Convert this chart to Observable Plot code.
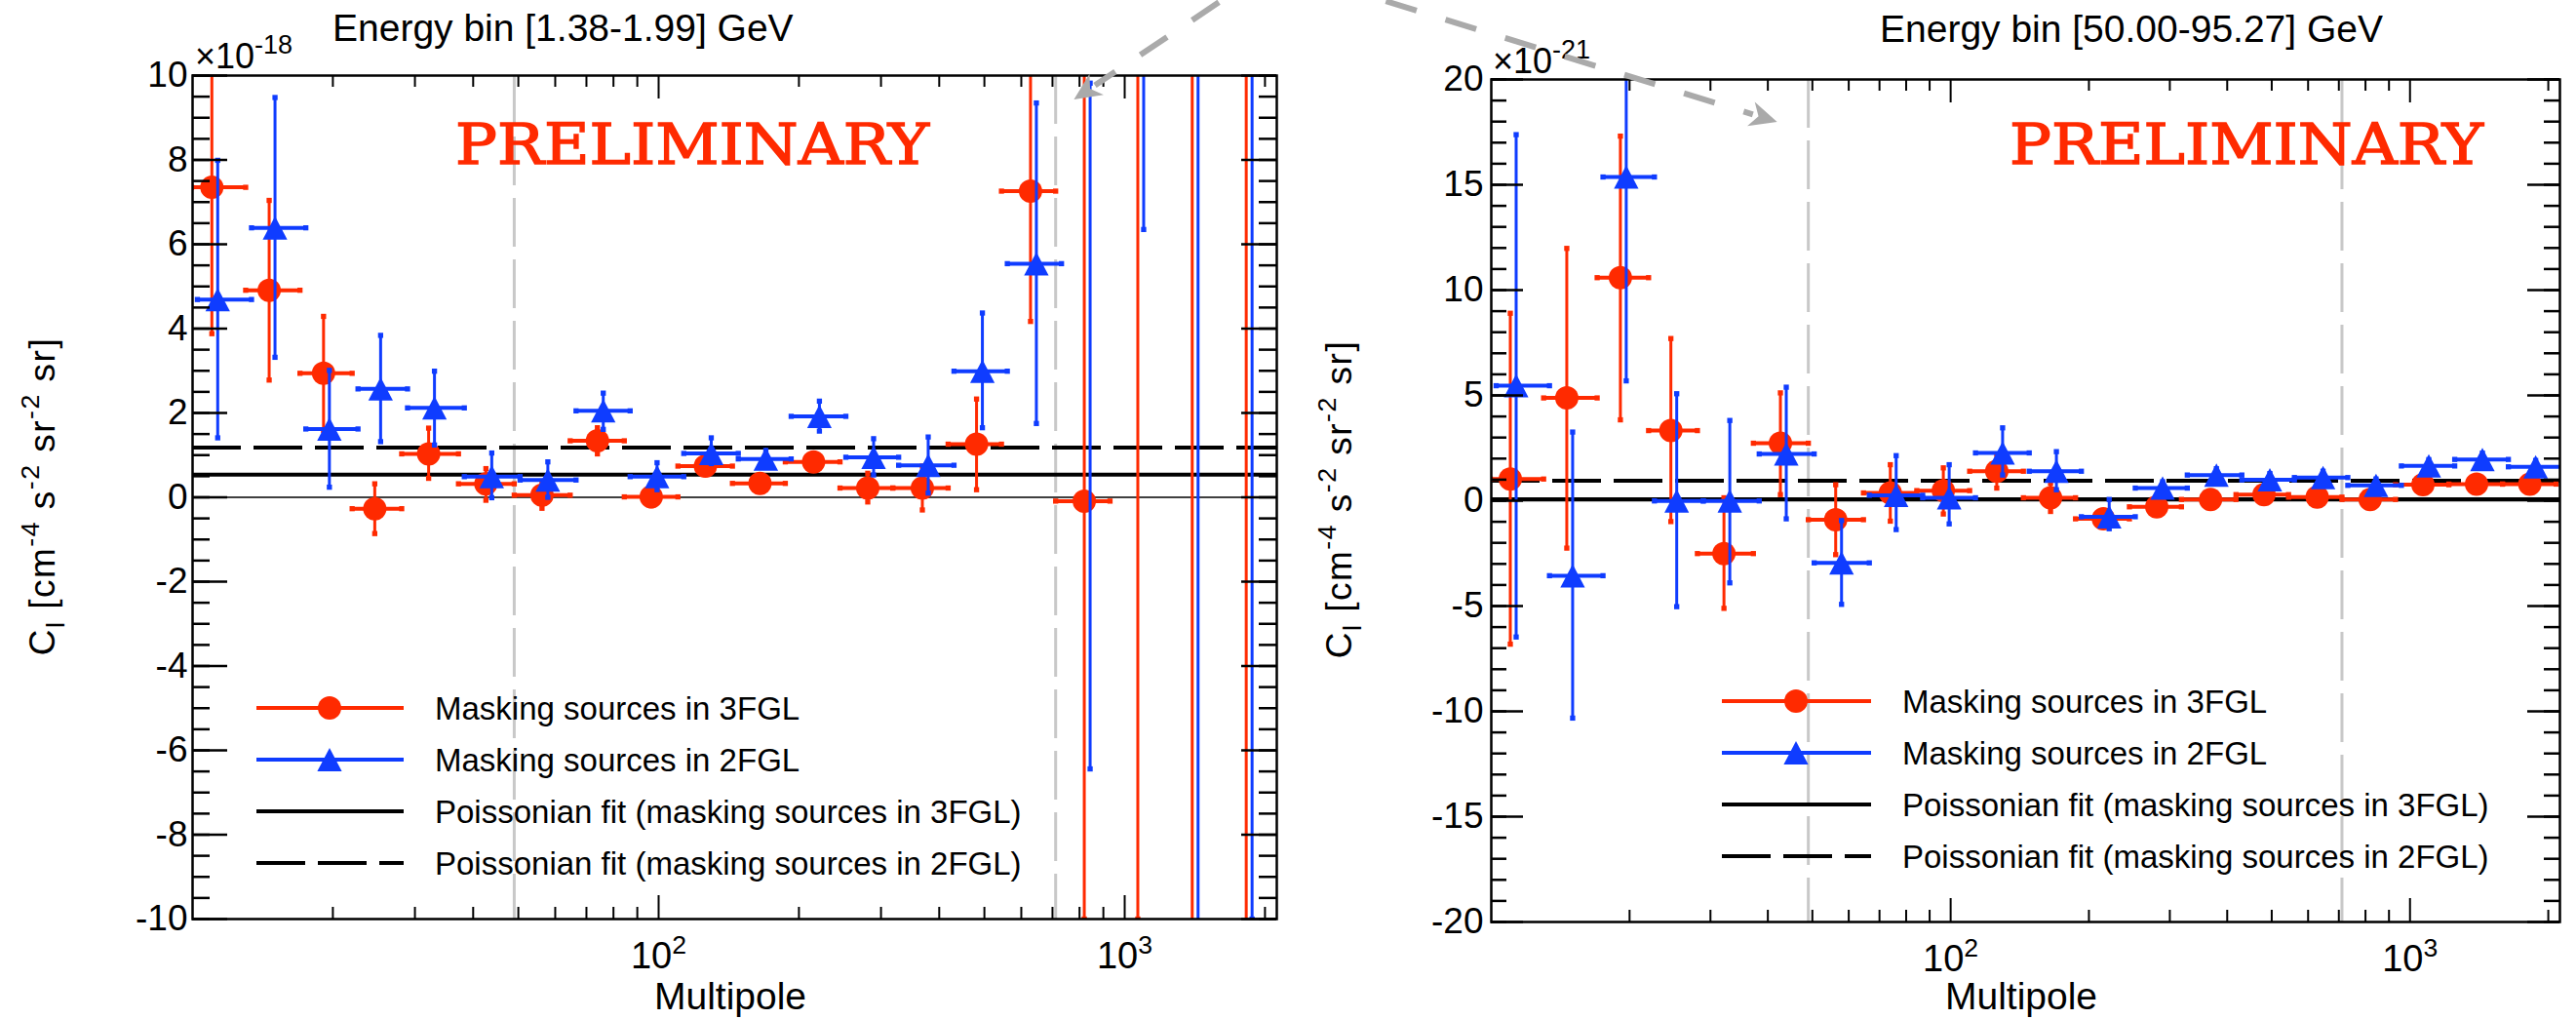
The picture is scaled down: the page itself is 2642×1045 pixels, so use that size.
<!DOCTYPE html>
<html><head><meta charset="utf-8">
<script src="https://cdn.jsdelivr.net/npm/d3@7"></script>
<script src="https://cdn.jsdelivr.net/npm/@observablehq/plot@0.6"></script>
<style>
body{margin:0;background:#fff;}
#wrap{position:relative;width:2642px;height:1045px;overflow:hidden;background:#fff;}
.panel{position:absolute;top:0;height:1045px;}
.panel svg{max-width:none !important;}
#overlay{position:absolute;left:0;top:0;pointer-events:none;overflow:visible;}
</style></head>
<body>
<div id="wrap">
  <div id="pL" class="panel" style="left:0;width:1320px"></div>
  <div id="pR" class="panel" style="left:1320px;width:1322px"></div>
  <svg id="overlay" width="2642" height="1045"></svg>
</div>
<script>
// ---------------- data ----------------
// multipole bin centres and bin edges (shared by both panels)
const ell   = [11, 14.6, 19.1, 24.6, 32.1, 42.6, 56.2, 73.9, 96.4, 126, 165, 215, 281, 368, 481, 628, 819, 1067, 1396, 1823];
const ellLo = [9.95, 13.0, 17.0, 22.0, 28.1, 37.2, 49.0, 64.6, 84.4, 110, 144, 187, 245, 318, 418, 544, 711, 930, 1215, 1590];
const ellHi = [13.0, 17.0, 22.0, 28.1, 37.2, 49.0, 64.6, 84.4, 110, 144, 187, 245, 318, 418, 544, 711, 930, 1215, 1590, 2080];

// Energy bin [1.38-1.99] GeV, units of 1e-18
const lowRed   = [7.35, 4.91, 2.94, -0.27, 1.03, 0.32, 0.05, 1.34, 0.01, 0.74, 0.33, 0.84, 0.22, 0.22, 1.26, 7.26, -0.09, 13, 14, 13];
const lowRedLo = [3.88, 2.78, 1.59, -0.86, 0.45, -0.07, -0.26, 1.03, -0.20, 0.54, 0.13, 0.64, -0.11, -0.30, 0.18, 4.17, -10.0, -10.0, -12, -12];
const lowRedHi = [11.0, 7.04, 4.29, 0.32, 1.64, 0.68, 0.38, 1.65, 0.22, 0.94, 0.53, 1.04, 0.57, 0.74, 2.33, 10.4, 12, 36, 40, 38];
const lowBlue   = [4.69, 6.39, 1.62, 2.57, 2.12, 0.49, 0.41, 2.05, 0.49, 1.04, 0.91, 1.92, 0.95, 0.76, 2.99, 5.54, null, 14, 15, 16];
const lowBlueLo = [1.41, 3.32, 0.24, 1.32, 1.24, -0.01, 0.0, 1.61, 0.18, 0.80, 0.71, 1.57, 0.53, 0.10, 1.65, 1.75, -6.44, 6.35, -12, -10.0];
const lowBlueHi = [7.99, 9.48, 3.01, 3.84, 2.99, 1.05, 0.84, 2.47, 0.82, 1.41, 1.11, 2.28, 1.39, 1.43, 4.37, 9.35, 9.82, 30, 40, 40];

// Energy bin [50.00-95.27] GeV, units of 1e-21
const highRed   = [1.03, 4.88, 10.59, 3.33, -2.51, 2.73, -0.90, 0.37, 0.48, 1.40, 0.14, -0.86, -0.29, 0.06, 0.29, 0.17, 0.06, 0.76, 0.79, 0.79];
const highRedLo = [-6.81, -2.25, 3.84, -0.99, -5.11, 0.29, -2.56, -0.97, -0.63, 0.60, -0.51, -1.16, -0.59, -0.24, -0.01, -0.13, -0.24, 0.46, 0.49, 0.49];
const highRedHi = [8.90, 11.98, 17.31, 7.70, 0.14, 5.12, 0.76, 1.71, 1.56, 2.20, 0.83, -0.56, 0.01, 0.36, 0.59, 0.47, 0.36, 1.06, 1.09, 1.09];
const highBlue   = [5.46, -3.56, 15.37, -0.01, -0.01, 2.22, -2.95, 0.26, 0.14, 2.27, 1.40, -0.76, 0.60, 1.22, 0.99, 1.10, 0.73, 1.65, 1.96, 1.61];
const highBlueLo = [-6.47, -10.32, 5.69, -5.03, -3.90, -0.86, -4.92, -1.37, -1.10, 1.22, 0.52, -1.33, 0.30, 0.92, 0.69, 0.80, 0.43, 1.35, 1.66, 1.31];
const highBlueHi = [17.38, 3.26, 21, 5.08, 3.81, 5.39, -0.94, 2.14, 1.71, 3.46, 2.33, 0.06, 0.90, 1.52, 1.29, 1.40, 1.03, 1.95, 2.26, 1.91];

// Poissonian fits and fit range
const fitLow  = {fgl3: 0.54, fgl2: 1.18};
const fitHigh = {fgl3: 0.07, fgl2: 0.95};
const fitRange = [49, 711];

// axes
const xDomain = [10, 2120];
const xMajorTicks = [100, 1000];
const xMinorTicks = [20, 30, 40, 50, 60, 70, 80, 90, 200, 300, 400, 500, 600, 700, 800, 900, 2000];
const yLowTicks  = [-10, -8, -6, -4, -2, 0, 2, 4, 6, 8, 10];
const yHighTicks = [-20, -15, -10, -5, 0, 5, 10, 15, 20];

const titles = ["Energy bin [1.38-1.99] GeV", "Energy bin [50.00-95.27] GeV"];
const exps = ["-18", "-21"];
const legendLabels = ["Masking sources in 3FGL", "Masking sources in 2FGL",
  "Poissonian fit (masking sources in 3FGL)", "Poissonian fit (masking sources in 2FGL)"];

// arrows between the panels (data coordinates of each panel)
const arrowL = {tail: [1622, 11.78], tip: [780, 9.42]};
const arrowR = {tail: [5.8, 23.75], tip: [42, 17.96]};

// ---------------- drawing ----------------
const RED = "#ff2a00", BLUE = "#0f3cff";
const FONT = "'Liberation Sans', Arial, Helvetica, sans-serif";
const tri = {draw(ctx, size) { const r = Math.sqrt(size / Math.PI); const h = r, w = r * 1.05;
  ctx.moveTo(0, -h); ctx.lineTo(w, h); ctx.lineTo(-w, h); ctx.closePath(); }};

function rows(v, lo, hi) {
  return ell.map((l, i) => ({ell: l, e0: ellLo[i], e1: ellHi[i], v: v[i], lo: lo[i], hi: hi[i]}));
}
function series(data, color, symbol, dx) {
  const cap = {symbol: "square", r: 3, fill: color, dx, clip: true};
  return [
    Plot.ruleX(data, {x: "ell", y1: "lo", y2: "hi", stroke: color, strokeWidth: 3, dx, clip: true}),
    Plot.dot(data, {x: "ell", y: "lo", ...cap}),
    Plot.dot(data, {x: "ell", y: "hi", ...cap}),
    Plot.ruleY(data, {y: "v", x1: "e0", x2: "e1", stroke: color, strokeWidth: 4, dx, clip: true}),
    Plot.dot(data, {x: "e0", y: "v", ...cap}),
    Plot.dot(data, {x: "e1", y: "v", ...cap}),
    Plot.dot(data, {x: "ell", y: "v", symbol, r: 12, fill: color, stroke: null, dx, clip: true})
  ];
}
function panel(o) {
  const fw = o.width - o.ml - o.mr, fh = 1045 - o.mt - o.mb;
  const yMinor = d3.range(o.yDomain[0], o.yDomain[1] + 1e-9, o.minorStep);
  return Plot.plot({
    width: o.width, height: 1045,
    marginLeft: o.ml, marginRight: o.mr, marginTop: o.mt, marginBottom: o.mb,
    style: {fontFamily: FONT, fontSize: "37px", background: "transparent", overflow: "visible"},
    x: {type: "log", domain: xDomain, label: null},
    y: {domain: o.yDomain, label: null},
    marks: [
      Plot.ruleX(fitRange, {x: d => d, stroke: "#c8c8c8", strokeWidth: 3, strokeDasharray: "50,13"}),
      Plot.ruleY([0], {stroke: "#000", strokeWidth: 1.5}),
      Plot.ruleY([o.fit.fgl3], {stroke: "#000", strokeWidth: 4}),
      Plot.ruleY([o.fit.fgl2], {stroke: "#000", strokeWidth: 4, strokeDasharray: "50,13"}),
      ...series(rows(o.red, o.redLo, o.redHi), RED, "circle", 0),
      ...series(rows(o.blue, o.blueLo, o.blueHi), BLUE, tri, 6),
      // inward ticks
      Plot.tickX(xMajorTicks, {x: d => d, insetTop: fh - 24, strokeWidth: 2}),
      Plot.tickX(xMajorTicks, {x: d => d, insetBottom: fh - 24, strokeWidth: 2}),
      Plot.tickX(xMinorTicks, {x: d => d, insetTop: fh - 12, strokeWidth: 2}),
      Plot.tickX(xMinorTicks, {x: d => d, insetBottom: fh - 12, strokeWidth: 2}),
      Plot.tickY(o.yTicks, {y: d => d, insetRight: fw - o.majLen, strokeWidth: 2.5}),
      Plot.tickY(o.yTicks, {y: d => d, insetLeft: fw - o.majLen, strokeWidth: 2.5}),
      Plot.tickY(yMinor, {y: d => d, insetRight: fw - o.minLen, strokeWidth: 2.5}),
      Plot.tickY(yMinor, {y: d => d, insetLeft: fw - o.minLen, strokeWidth: 2.5}),
      Plot.frame({stroke: "#000", strokeWidth: 2.5}),
      Plot.axisY({ticks: o.yTicks, tickSize: 0, tickPadding: o.yPad, tickFormat: d => String(d), label: null, fontSize: 37}),
      Plot.axisX({ticks: xMajorTicks, tickSize: 0, tickPadding: 24, tickFormat: d => String(Math.round(Math.log10(d))), label: null, fontSize: 38})
    ]
  });
}

const plotL = panel({width: 1320, ml: 197, mr: 11, mt: 77, mb: 103, yDomain: [-10, 10], yTicks: yLowTicks,
  minorStep: 0.5, majLen: 36, minLen: 18, yPad: 5, fit: fitLow,
  red: lowRed, redLo: lowRedLo, redHi: lowRedHi, blue: lowBlue, blueLo: lowBlueLo, blueHi: lowBlueHi});
const plotR = panel({width: 1322, ml: 209, mr: 17, mt: 81, mb: 100, yDomain: [-20, 20], yTicks: yHighTicks,
  minorStep: 1, majLen: 33, minLen: 16, yPad: 8, fit: fitHigh,
  red: highRed, redLo: highRedLo, redHi: highRedHi, blue: highBlue, blueLo: highBlueLo, blueHi: highBlueHi});
document.getElementById("pL").appendChild(plotL);
document.getElementById("pR").appendChild(plotR);

// superscript exponents in x tick labels
function richText(sel, parts, F) {
  let shift = 0;
  parts.forEach(p => {
    const target = p.sup ? -0.42 * F : p.sub ? 0.28 * F : 0;
    const ts = sel.append("tspan").attr("dy", target - shift).text(p.t);
    if (p.sup || p.sub) ts.attr("font-size", (p.scale || 0.72) * F);
    shift = target;
  });
  return sel;
}
[plotL, plotR].forEach(p => {
  d3.select(p).selectAll('[aria-label="x-axis tick label"] text').each(function() {
    const e = this.textContent; this.textContent = "";
    richText(d3.select(this), [{t: "10"}, {t: e, sup: true, scale: 0.7}], 38);
  });
});

// overlay: titles, labels, legends, arrows
const ov = d3.select("#overlay").attr("font-family", FONT);
const panels = [
  {plot: plotL, off: 0, title: [341, 42], mult: [200, 70], ylab: [56, 509], xlab: [749, 1035],
   prelim: [467, 168], legend: {rows: [726, 779, 832, 885], x0: 263, x1: 414, xm: 338, xt: 446}, arrow: arrowL},
  {plot: plotR, off: 1320, title: [1928, 43], mult: [1531, 75], ylab: [1386, 512], xlab: [2073, 1035],
   prelim: [2061, 168], legend: {rows: [719, 772, 825, 878], x0: 1766, x1: 1919, xm: 1842, xt: 1951}, arrow: arrowR}
];
panels.forEach((P, i) => {
  ov.append("text").attr("x", P.title[0]).attr("y", P.title[1]).attr("font-size", 39).attr("fill", "#000").text(titles[i]);
  richText(ov.append("text").attr("x", P.mult[0]).attr("y", P.mult[1]).attr("font-size", 36),
    [{t: "×10"}, {t: exps[i], sup: true, scale: 0.75}], 36);
  richText(ov.append("text").attr("transform", `translate(${P.ylab[0]},${P.ylab[1]}) rotate(-90)`)
      .attr("text-anchor", "middle").attr("font-size", 37).attr("letter-spacing", 1.5),
    [{t: "C"}, {t: "l", sub: true}, {t: " [cm"}, {t: "-4", sup: true}, {t: " s"}, {t: "-2", sup: true},
     {t: " sr"}, {t: "-2", sup: true}, {t: " sr]"}], 37);
  ov.append("text").attr("x", P.xlab[0]).attr("y", P.xlab[1]).attr("text-anchor", "middle").attr("font-size", 39).text("Multipole");
  ov.append("text").attr("x", P.prelim[0]).attr("y", P.prelim[1]).attr("font-family", "'DejaVu Serif', 'Liberation Serif', serif")
    .attr("font-size", 58).attr("fill", RED).attr("stroke", RED).attr("stroke-width", 1.4)
    .attr("textLength", 486).attr("lengthAdjust", "spacingAndGlyphs").text("PRELIMINARY");
  // legend
  const L = P.legend;
  const styles = [
    {stroke: RED, dash: null, sym: "circle"}, {stroke: BLUE, dash: null, sym: "tri"},
    {stroke: "#000", dash: null}, {stroke: "#000", dash: "50,13"}];
  styles.forEach((s, k) => {
    const y = L.rows[k];
    ov.append("line").attr("x1", L.x0).attr("x2", L.x1).attr("y1", y).attr("y2", y)
      .attr("stroke", s.stroke).attr("stroke-width", 4).attr("stroke-dasharray", s.dash);
    if (s.sym === "circle") ov.append("circle").attr("cx", L.xm).attr("cy", y).attr("r", 12).attr("fill", RED);
    if (s.sym === "tri") ov.append("path").attr("d", `M${L.xm},${y - 12}L${L.xm + 12.6},${y + 12}L${L.xm - 12.6},${y + 12}Z`).attr("fill", BLUE);
    ov.append("text").attr("x", L.xt).attr("y", y + 12).attr("font-size", 33).text(legendLabels[k]);
  });
  // arrow
  const sx = P.plot.scale("x"), sy = P.plot.scale("y");
  const tx = P.off + sx.apply(P.arrow.tip[0]), ty = sy.apply(P.arrow.tip[1]);
  const ax = P.off + sx.apply(P.arrow.tail[0]), ay = sy.apply(P.arrow.tail[1]);
  const len = Math.hypot(tx - ax, ty - ay), ux = (tx - ax) / len, uy = (ty - ay) / len;
  const HL = 28, HW = 13;
  const bx = tx - ux * HL, by = ty - uy * HL;
  const sx0 = ax - ux * 60, sy0 = ay - uy * 60;
  ov.append("line").attr("x1", sx0).attr("y1", sy0).attr("x2", bx + ux * 2).attr("y2", by + uy * 2)
    .attr("stroke", "#aaaaaa").attr("stroke-width", 6).attr("stroke-dasharray", "33,31");
  ov.append("path").attr("d", `M${tx},${ty}L${bx - uy * HW},${by + ux * HW}L${bx + ux * 8},${by + uy * 8}L${bx + uy * HW},${by - ux * HW}Z`)
    .attr("fill", "#aaaaaa");
});
</script>
</body></html>
